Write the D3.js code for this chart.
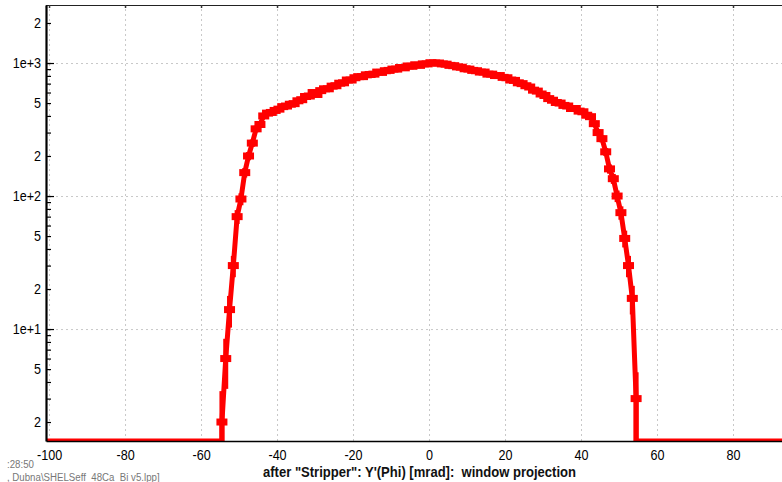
<!DOCTYPE html>
<html>
<head>
<meta charset="utf-8">
<script src="https://cdn.jsdelivr.net/npm/d3@7"></script>
<style>
  body { margin: 0; background: #fff; }
  svg { display: block; font-family: "Liberation Sans", Arial, sans-serif; }
</style>
</head>
<body>
<svg id="chart_svg"></svg>
<script>
    // ============ DATA =================
    // bin centres of the Y'(Phi) projection [mrad]
    var binCenters = [
        -54.5, -53.5, -52.5, -51.5, -50.5, -49.5, -48.5, -47.5, -46.5, -45.5,
        -44.5, -43.5, -42.5, -41.5, -40.5, -39.5, -38.5, -37.5, -36.5, -35.5,
        -34.5, -33.5, -32.5, -31.5, -30.5, -29.5, -28.5, -27.5, -26.5, -25.5,
        -24.5, -23.5, -22.5, -21.5, -20.5, -19.5, -18.5, -17.5, -16.5, -15.5,
        -14.5, -13.5, -12.5, -11.5, -10.5, -9.5, -8.5, -7.5, -6.5, -5.5,
        -4.5, -3.5, -2.5, -1.5, -0.5, 0.5, 1.5, 2.5, 3.5, 4.5,
        5.5, 6.5, 7.5, 8.5, 9.5, 10.5, 11.5, 12.5, 13.5, 14.5,
        15.5, 16.5, 17.5, 18.5, 19.5, 20.5, 21.5, 22.5, 23.5, 24.5,
        25.5, 26.5, 27.5, 28.5, 29.5, 30.5, 31.5, 32.5, 33.5, 34.5,
        35.5, 36.5, 37.5, 38.5, 39.5, 40.5, 41.5, 42.5, 43.5, 44.5,
        45.5, 46.5, 47.5, 48.5, 49.5, 50.5, 51.5, 52.5, 53.5, 54.5
    ];
    // counts per bin
    var binCounts = [
        2, 6, 14, 30, 70, 95, 150, 200, 250, 320,
        345, 400, 420, 425, 440, 450, 470, 475, 490, 495,
        520, 530, 560, 565, 600, 580, 620, 640, 640, 670,
        675, 705, 710, 745, 745, 775, 790, 790, 815, 820,
        825, 855, 850, 875, 880, 900, 900, 925, 920, 950,
        945, 970, 960, 985, 985, 1005, 1000, 1000, 985, 980,
        960, 955, 935, 930, 905, 900, 880, 875, 855, 855,
        825, 825, 805, 805, 780, 775, 745, 740, 710, 700,
        675, 660, 625, 615, 585, 570, 540, 525, 505, 500,
        480, 475, 455, 455, 435, 430, 405, 395, 350, 300,
        270, 215, 160, 135, 100, 75, 48, 30, 17, 3
    ];
    var xTickValues = [-100, -80, -60, -40, -20, 0, 20, 40, 60, 80];
    var yLabelValues = [2, 5, 10, 20, 50, 100, 200, 500, 1000, 2000];
    var yDecades = [10, 100, 1000];
    var titleText = 'after "Stripper": Y\'(Phi) [mrad]:  window projection';
    var footerLines = [":28:50", ", Dubna\\SHELSeff_48Ca_Bi v5.lpp]"];

    // ============ LAYOUT =================
    var svgWidth = 782;
    var svgHeight = 482;
    var plot = { left: 46, top: 5, right: 809, bottom: 441 };
    var plotH = plot.bottom - plot.top;

    var svg = d3.select("#chart_svg")
        .attr("width", svgWidth)
        .attr("height", svgHeight);

    svg.append("rect")
        .attr("width", svgWidth)
        .attr("height", svgHeight)
        .attr("fill", "#fff");

    var xScale = d3.scaleLinear()
        .domain([-100.8, 100])
        .range([plot.left, plot.right]);

    var yScale = d3.scaleLog()
        .domain([1.44, 2730])
        .range([plot.bottom, plot.top]);

    svg.append("clipPath")
        .attr("id", "plotclip")
        .append("rect")
        .attr("x", plot.left)
        .attr("y", plot.top)
        .attr("width", plot.right - plot.left)
        .attr("height", plotH);

    // ============ GRID =================
    var grid = svg.append("g").attr("class", "grid");

    grid.append("g")
        .attr("transform", "translate(0," + plot.bottom + ")")
        .call(d3.axisBottom(xScale).tickValues(xTickValues).tickSize(-plotH).tickFormat(""))
        .call(function (g) { g.select(".domain").remove(); });

    grid.append("g")
        .attr("transform", "translate(" + plot.left + ",0)")
        .call(d3.axisLeft(yScale).tickValues(yDecades).tickSize(-(plot.right - plot.left)).tickFormat(""))
        .call(function (g) { g.select(".domain").remove(); });

    grid.selectAll("line")
        .attr("stroke", "#c8c8c8")
        .attr("stroke-width", 1)
        .attr("stroke-dasharray", "2,3");

    // ============ DATA MARKS =================
    var points = binCenters.map(function (c, i) { return { x: c, y: binCounts[i] }; });
    var yFloor = yScale.domain()[0];

    // zero bins sit on the bottom of the frame
    var linePoints = [{ x: -100.8, y: yFloor }, { x: binCenters[0], y: yFloor }]
        .concat(points)
        .concat([{ x: binCenters[binCenters.length - 1], y: yFloor }, { x: 100, y: yFloor }]);

    var line = d3.line()
        .x(function (d) { return xScale(d.x); })
        .y(function (d) { return yScale(d.y); });

    var marks = svg.append("g").attr("clip-path", "url(#plotclip)");

    marks.append("path")
        .datum(linePoints)
        .attr("d", line)
        .attr("fill", "none")
        .attr("stroke", "#ff0000")
        .attr("stroke-width", 5)
        .attr("stroke-linejoin", "round");

    // error bars (sqrt N)
    marks.selectAll(".err")
        .data(points)
        .enter().append("line")
        .attr("class", "err")
        .attr("x1", function (d) { return xScale(d.x); })
        .attr("x2", function (d) { return xScale(d.x); })
        .attr("y1", function (d) { return yScale(Math.max(d.y - Math.sqrt(d.y), yFloor)); })
        .attr("y2", function (d) { return yScale(d.y + Math.sqrt(d.y)); })
        .attr("stroke", "#ff0000")
        .attr("stroke-width", 5);

    marks.selectAll(".marker")
        .data(points)
        .enter().append("rect")
        .attr("class", "marker")
        .attr("x", function (d) { return xScale(d.x) - 5.5; })
        .attr("y", function (d) { return yScale(d.y) - 3.5; })
        .attr("width", 11)
        .attr("height", 7)
        .attr("fill", "#ff0000");

    // ============ AXES =================
    // bottom axis with labels
    var xAxis = svg.append("g")
        .attr("transform", "translate(0," + plot.bottom + ")")
        .call(d3.axisBottom(xScale).tickValues(xTickValues).tickSize(0).tickPadding(9)
            .tickFormat(function (d) { return String(d); }));
    xAxis.select(".domain").attr("stroke", "#000").attr("stroke-width", 1.5);
    xAxis.selectAll("text")
        .attr("font-size", "14px")
        .attr("fill", "#000")
        .attr("transform", "scale(0.9,1)");

    // top frame with small ticks
    var topAxis = svg.append("g")
        .attr("transform", "translate(0," + plot.top + ")")
        .call(d3.axisTop(xScale).tickValues(xTickValues).tickSize(-3).tickFormat(""));
    topAxis.select(".domain").attr("stroke", "#222").attr("stroke-width", 1.2);
    topAxis.selectAll("line").attr("stroke", "#333").attr("stroke-width", 1.5);

    // left axis: minor ticks
    var minorValues = [];
    [1, 10, 100, 1000].forEach(function (dec) {
        [1, 2, 3, 4, 5, 6, 7, 8, 9].forEach(function (m) {
            var v = dec * m;
            if (v > yScale.domain()[0] && v < yScale.domain()[1]) minorValues.push(v);
        });
    });
    svg.append("g")
        .attr("transform", "translate(" + plot.left + ",0)")
        .call(d3.axisLeft(yScale).tickValues(minorValues).tickSize(-5).tickFormat(""))
        .call(function (g) { g.select(".domain").remove(); })
        .selectAll("line").attr("stroke", "#000").attr("stroke-width", 1.2);

    // left axis: labels + decade ticks
    var yAxis = svg.append("g")
        .attr("transform", "translate(" + plot.left + ",0)")
        .call(d3.axisLeft(yScale)
            .tickValues(yLabelValues)
            .tickSize(0)
            .tickPadding(5)
            .tickFormat(function (d) {
                var e = Math.round(Math.log10(d));
                if (Math.pow(10, e) === d) return "1e+" + e;
                return String(Math.round(d / Math.pow(10, Math.floor(Math.log10(d)))));
            }));
    yAxis.select(".domain").attr("stroke", "#000").attr("stroke-width", 2.2);
    yAxis.selectAll("text")
        .attr("font-size", "14px")
        .attr("fill", "#000")
        .attr("transform", "translate(-5,0) scale(0.9,1) translate(5,0)");

    svg.append("g")
        .attr("transform", "translate(" + plot.left + ",0)")
        .call(d3.axisLeft(yScale).tickValues(yDecades).tickSize(-8).tickFormat(""))
        .call(function (g) { g.select(".domain").remove(); })
        .selectAll("line").attr("stroke", "#000").attr("stroke-width", 1.2);

    // ============ TEXTS =================
    svg.append("text")
        .attr("x", 263)
        .attr("y", 477)
        .attr("font-size", "14px")
        .attr("font-weight", "bold")
        .attr("fill", "#111")
        .attr("textLength", 313)
        .attr("lengthAdjust", "spacingAndGlyphs")
        .style("white-space", "pre")
        .text(titleText);

    svg.selectAll(".footer")
        .data(footerLines)
        .enter().append("text")
        .attr("class", "footer")
        .attr("x", 7)
        .attr("y", function (d, i) { return 468 + i * 13; })
        .attr("font-size", "11px")
        .attr("fill", "#777")
        .attr("transform", "translate(7,0) scale(0.88,1) translate(-7,0)")
        .text(function (d) { return d; });
</script>
</body>
</html>
